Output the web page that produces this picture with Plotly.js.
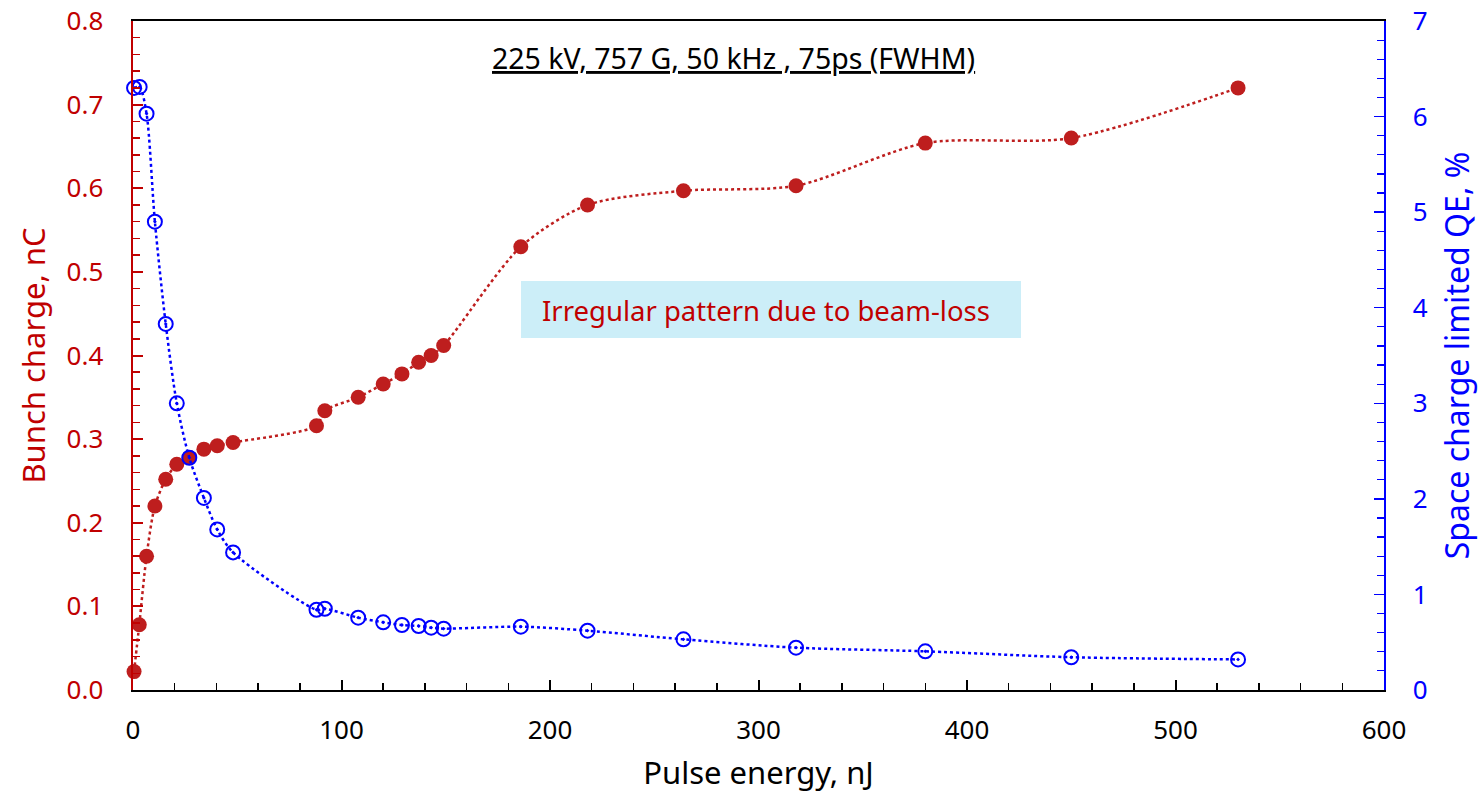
<!DOCTYPE html>
<html>
<head>
<meta charset="utf-8">
<script src="https://cdn.plot.ly/plotly-3.0.1.min.js"></script>
<style>html,body{margin:0;padding:0;background:#fff;}#chart{width:1483px;height:800px;}</style>
</head>
<body>
<div id="chart"></div>
<script>
// Pulse energy, nJ
const pulseEnergy = [0.5, 3, 6.5, 10.5, 15.7, 21, 27, 34, 40.4, 48, 88, 92, 108, 120, 129, 137, 143, 149, 186, 218, 264, 318, 380, 450, 530];
// Bunch charge, nC
const bunchCharge = [0.022, 0.078, 0.160, 0.220, 0.252, 0.270, 0.278, 0.288, 0.292, 0.296, 0.316, 0.334, 0.350, 0.366, 0.378, 0.392, 0.400, 0.412, 0.530, 0.580, 0.597, 0.603, 0.654, 0.660, 0.720];
// Space charge limited QE, %
const qeEnergy = [0.5, 3.2, 6.5, 10.5, 15.7, 21, 27, 34, 40.4, 48, 88, 92, 108, 120, 129, 137, 143, 149, 186, 218, 264, 318, 380, 450, 530];
const qeValues = [6.30, 6.31, 6.03, 4.90, 3.83, 3.00, 2.43, 2.01, 1.68, 1.44, 0.84, 0.85, 0.757, 0.708, 0.68, 0.67, 0.652, 0.642, 0.663, 0.621, 0.53, 0.443, 0.405, 0.343, 0.32];

const xTickVals = [0, 100, 200, 300, 400, 500, 600];
const leftTickVals = [0, 0.1, 0.2, 0.3, 0.4, 0.5, 0.6, 0.7, 0.8];
const rightTickVals = [0, 1, 2, 3, 4, 5, 6, 7];

const FONT = 'Noto Sans, Open Sans, sans-serif';
const RED = '#C00000';
const RED_M = '#BE1E1E';
const BLUE = '#0000FF';

const traces = [
  {
    x: pulseEnergy, y: bunchCharge, type: 'scatter', mode: 'lines+markers',
    line: {color: RED_M, width: 2.5, dash: 'dot', shape: 'spline', smoothing: 0.8},
    marker: {color: RED_M, size: 15, symbol: 'circle'},
    cliponaxis: false, yaxis: 'y', name: 'Bunch charge'
  },
  {
    x: qeEnergy, y: qeValues, type: 'scatter', mode: 'lines+markers',
    line: {color: BLUE, width: 2.5, dash: 'dot', shape: 'spline', smoothing: 0.8},
    marker: {color: BLUE, size: 14, symbol: 'circle-open-dot', line: {width: 2, color: BLUE}},
    cliponaxis: false, yaxis: 'y2', name: 'QE'
  }
];

const layout = {
  width: 1483, height: 800,
  margin: {l: 133, r: 99, t: 21, b: 110},
  paper_bgcolor: '#fff', plot_bgcolor: '#fff',
  showlegend: false,
  font: {family: FONT, size: 26, color: '#000'},
  xaxis: {
    range: [0, 600], tickvals: xTickVals, ticktext: xTickVals.map(String),
    showgrid: false, zeroline: false,
    showline: true, linecolor: '#000', linewidth: 2, mirror: true,
    ticks: 'inside', ticklen: 10, tickwidth: 2, tickcolor: '#000',
    minor: {dtick: 20, tick0: 0, ticks: 'inside', ticklen: 7, tickwidth: 1.5, tickcolor: '#000', showgrid: false},
    tickfont: {family: FONT, size: 26, color: '#000'},
    ticklabelstandoff: 16,
    title: {text: 'Pulse energy, nJ', font: {family: FONT, size: 31, color: '#000'}, standoff: 16}
  },
  yaxis: {
    range: [0, 0.8], tickvals: leftTickVals, tickformat: '.1f',
    showgrid: false, zeroline: false,
    showline: true, linecolor: RED, linewidth: 2.5,
    ticks: 'inside', ticklen: 10, tickwidth: 2, tickcolor: RED,
    minor: {dtick: 0.02, tick0: 0, ticks: 'inside', ticklen: 7, tickwidth: 1.5, tickcolor: RED, showgrid: false},
    tickfont: {family: FONT, size: 26, color: RED},
    ticklabelstandoff: 22,
    title: {text: 'Bunch charge, nC', font: {family: FONT, size: 31, color: RED}, standoff: 12}
  },
  yaxis2: {
    range: [0, 7], tickvals: rightTickVals, overlaying: 'y', side: 'right',
    showgrid: false, zeroline: false,
    showline: true, linecolor: BLUE, linewidth: 1.5,
    ticks: 'inside', ticklen: 10, tickwidth: 1.5, tickcolor: BLUE,
    minor: {dtick: 0.2, tick0: 0, ticks: 'inside', ticklen: 7, tickwidth: 1.2, tickcolor: BLUE, showgrid: false},
    tickfont: {family: FONT, size: 26, color: BLUE},
    ticklabelstandoff: 22,
    title: {text: 'Space charge limited QE, %', font: {family: FONT, size: 32, color: BLUE}, standoff: 20}
  },
  shapes: [
    {type: 'rect', xref: 'paper', yref: 'paper', layer: 'below',
     x0: (521 - 133) / 1251, x1: (1021 - 133) / 1251, y0: (690 - 338) / 669, y1: (690 - 281) / 669,
     fillcolor: '#CCEEF8', line: {width: 0}}
  ],
  annotations: [
    {xref: 'paper', yref: 'paper', x: (733 - 133) / 1251, y: (690 - 58) / 669,
     text: '<u>225 kV, 757 G, 50 kHz , 75ps (FWHM)</u>', showarrow: false,
     xanchor: 'center', yanchor: 'middle', font: {family: FONT, size: 28.5, color: '#000'}},
    {xref: 'paper', yref: 'paper', x: (540 - 133) / 1251, y: (690 - 311) / 669,
     text: 'Irregular pattern due to beam-loss', showarrow: false,
     xanchor: 'left', yanchor: 'middle', font: {family: FONT, size: 27.5, color: RED}}
  ]
};

Plotly.newPlot('chart', traces, layout, {displayModeBar: false, staticPlot: true});
</script>
</body>
</html>
